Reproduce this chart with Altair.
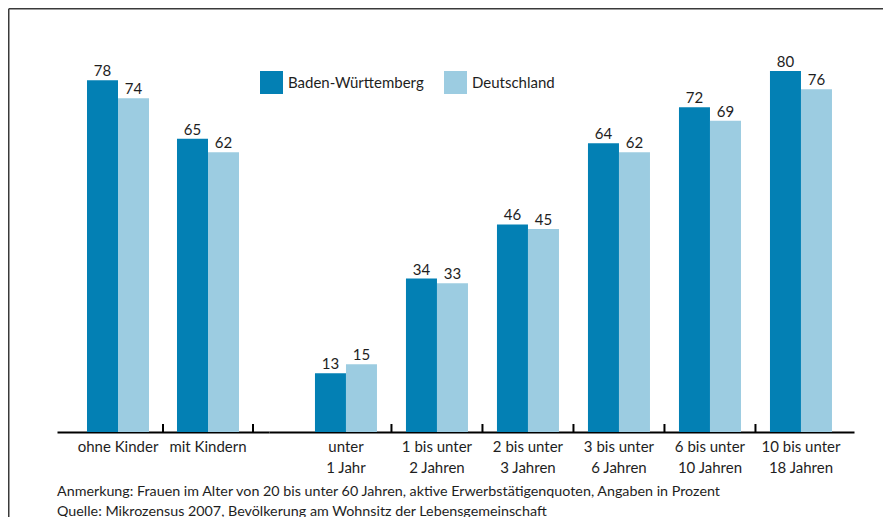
import altair as alt
import pandas as pd

groups_left = ["ohne Kinder", "mit Kindern"]
groups_right = ["unter\n1 Jahr", "1 bis unter\n2 Jahren", "2 bis unter\n3 Jahren",
                "3 bis unter\n6 Jahren", "6 bis unter\n10 Jahren", "10 bis unter\n18 Jahren"]
bw_left = [78, 65]
de_left = [74, 62]
bw_right = [13, 34, 46, 64, 72, 80]
de_right = [15, 33, 45, 62, 69, 76]
series = ["Baden-Württemberg", "Deutschland"]
colors = ["#0380b4", "#9ccce1"]
notes = ["Anmerkung: Frauen im Alter von 20 bis unter 60 Jahren, aktive Erwerbstätigenquoten, Angaben in Prozent",
         "Quelle: Mikrozensus 2007, Bevölkerung am Wohnsitz der Lebensgemeinschaft"]

H = 406
FONT = "Lato"
TXT = "#1e1e1e"


def long_df(groups, bw, de):
    rows = []
    for g, a, b in zip(groups, bw, de):
        rows.append({"Gruppe": g, "Reihe": series[0], "Wert": a})
        rows.append({"Gruppe": g, "Reihe": series[1], "Wert": b})
    return pd.DataFrame(rows)


color = alt.Color(
    "Reihe:N",
    scale=alt.Scale(domain=series, range=colors),
    legend=alt.Legend(
        title=None, orient="none", legendX=203, legendY=45, direction="horizontal",
        symbolType="square", symbolSize=529, symbolStrokeWidth=0, symbolOpacity=1,
        labelFontSize=15, labelFont=FONT, labelColor=TXT, labelOffset=5,
        columnPadding=20, padding=0,
    ),
)


def panel(groups, bw, de, width, p_inner, p_outer, align, skip_last):
    df = long_df(groups, bw, de)
    xscale = alt.Scale(domain=groups, paddingInner=p_inner, paddingOuter=p_outer,
                       align=align, round=False)
    xaxis = alt.Axis(
        title=None, ticks=False, labelAngle=0, domainColor="#000", domainWidth=2,
        labelExpr="split(datum.label, '\\n')", labelFontSize=15, labelFont=FONT,
        labelColor=TXT, labelPadding=7, labelLineHeight=21,
    )
    x = alt.X("Gruppe:N", scale=xscale, sort=groups, axis=xaxis)
    xo = alt.XOffset("Reihe:N", scale=alt.Scale(domain=series, paddingInner=0, paddingOuter=0))
    y = alt.Y("Wert:Q", scale=alt.Scale(domain=[0, 90]), axis=None)
    base = alt.Chart(df)
    bars = base.mark_bar().encode(x=x, xOffset=xo, y=y, color=color)
    labels = base.mark_text(baseline="alphabetic", dy=-4, fontSize=15, font=FONT, color=TXT).encode(
        x=x, xOffset=xo, y=y, text="Wert:Q")
    tick_groups = groups[:-1] if skip_last else groups
    tdf = pd.DataFrame({"Gruppe": tick_groups})
    step = width / (len(groups) - p_inner + 2 * p_outer)
    off = step * (1 - p_inner / 2)
    ticks = alt.Chart(tdf).mark_rule(color="#000", strokeWidth=2).encode(
        x=x,
        xOffset=alt.value(off),
        y=alt.value(H - 8), y2=alt.value(H))
    return [bars, labels, ticks], width


left_layers, wl = panel(groups_left, bw_left, de_left, 212, 0.311, 0.3333, 0.5, False)
right_layers, wr = panel(groups_right, bw_right, de_right, 585, 0.3187, 0.3736, 0.676, True)

deco = alt.Chart(pd.DataFrame({"d": [0]}))
frame_top = deco.mark_rule(color="#3a3a3a", strokeWidth=1.5).encode(
    x=alt.value(-48.25), x2=alt.value(826), y=alt.value(-17.25))
frame_left = deco.mark_rule(color="#3a3a3a", strokeWidth=1.5).encode(
    x=alt.value(-48.25), y=alt.value(-17.25), y2=alt.value(491))
note_text = deco.mark_text(align="left", baseline="alphabetic", fontSize=14.3, font=FONT,
                           color=TXT, lineHeight=20).encode(
    x=alt.value(0), y=alt.value(470), text=alt.value(notes))

left = alt.layer(*left_layers, frame_top, frame_left, note_text).properties(width=wl, height=H)
right = alt.layer(*right_layers).properties(width=wr, height=H)

chart = alt.hconcat(left, right, spacing=0, bounds="flush").properties(
    padding=0, background="white"
).configure_view(stroke=None)

chart.save("out.html", embed_options={"renderer": "svg", "actions": False})
